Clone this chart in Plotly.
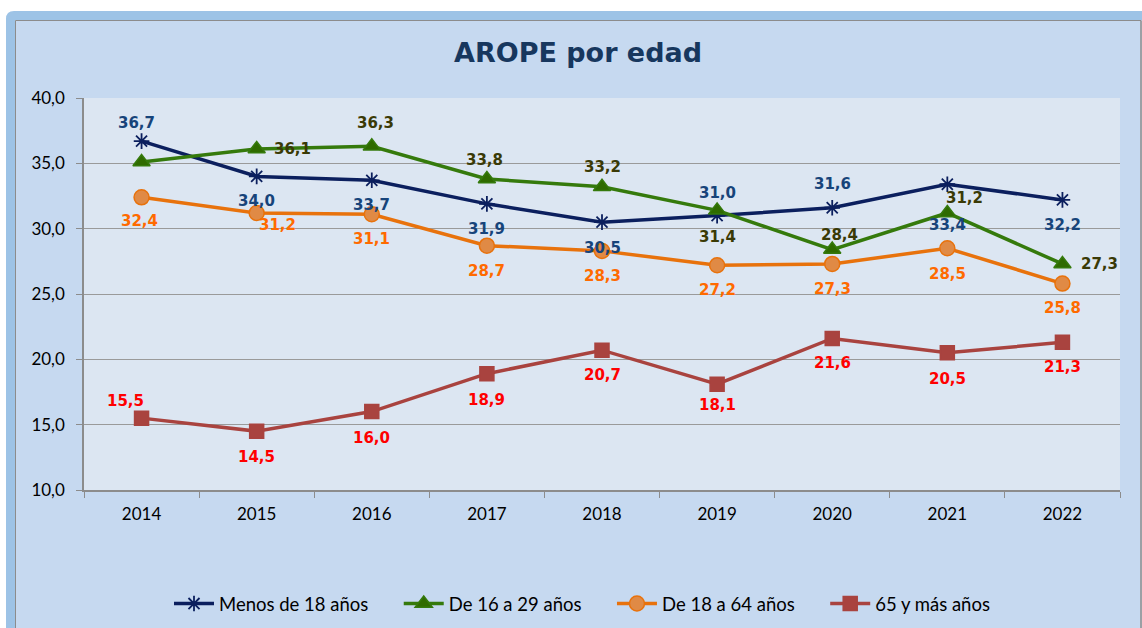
import plotly.graph_objects as go

# ---------------- data ----------------
years = ["2014", "2015", "2016", "2017", "2018", "2019", "2020", "2021", "2022"]
menos_18 = [36.7, 34.0, 33.7, 31.9, 30.5, 31.0, 31.6, 33.4, 32.2]
de_16_29 = [35.1, 36.1, 36.3, 33.8, 33.2, 31.4, 28.4, 31.2, 27.3]
de_18_64 = [32.4, 31.2, 31.1, 28.7, 28.3, 27.2, 27.3, 28.5, 25.8]
mas_65 = [15.5, 14.5, 16.0, 18.9, 20.7, 18.1, 21.6, 20.5, 21.3]
series_names = ["Menos de 18 años", "De 16 a 29 años", "De 18 a 64 años", "65 y más años"]
y_ticks = [10, 15, 20, 25, 30, 35, 40]
title_text = "AROPE por edad"

# ---------------- styles ----------------
W, H = 1142, 628
L, R, T, B = 84, 1120, 98, 490  # plot area in px

line_cols = ["#0B1F5E", "#357A0C", "#E8720C", "#A9433F"]
marker_fill = ["#0B1F5E", "#2F6B00", "#E08A45", "#A9433F"]
label_cols = ["#17447A", "#3A3A06", "#FF6A00", "#FF0000"]
symbols = ["asterisk-open", "triangle-up", "circle", "square"]
msizes = [13, 15, 15, 14]
legend_pad = "\u2003\u2002\u2009"

# label offsets in px (dx, dy with dy positive = down); None = no label
offsets = [
    [(-5, -18), (0, 25), (0, 25), (0, 25), (0, 26), (0, -23), (0, -24), (0, 41), (0, 25)],
    [None, (36, 0), (4, -23), (-2, -19), (0, -20), (0, 27), (7, -15), (17, -15), (37, 0)],
    [(-2, 24), (21, 12), (0, 25), (0, 25), (0, 25), (0, 25), (0, 25), (0, 26), (0, 24)],
    [(-16, -17), (0, 26), (0, 26), (0, 26), (0, 25), (0, 21), (0, 25), (0, 26), (0, 25)],
]

all_series = [menos_18, de_16_29, de_18_64, mas_65]

fig = go.Figure()
for i, vals in enumerate(all_series):
    nm = series_names[i] + (legend_pad if i < len(all_series) - 1 else "")
    fig.add_trace(go.Scatter(
        x=years, y=vals, name=nm, mode="lines+markers",
        line=dict(color=line_cols[i], width=3.5),
        marker=dict(symbol=symbols[i], size=msizes[i], color=marker_fill[i],
                    line=dict(color=line_cols[i], width=1.5 if i != 0 else 1.8)),
    ))

annotations = []
for i, vals in enumerate(all_series):
    for j, v in enumerate(vals):
        off = offsets[i][j]
        if off is None:
            continue
        annotations.append(dict(
            x=j, y=v, xref="x", yref="y",
            text="<b>" + f"{v:.1f}".replace(".", ",") + "</b>", showarrow=False,
            xshift=off[0], yshift=-off[1], xanchor="center", yanchor="middle",
            font=dict(family="DejaVu Sans", size=15, color=label_cols[i]),
        ))


def px_x(p):
    return (p - L) / (R - L)


def px_y(p):
    return (B - p) / (B - T)


annotations.append(dict(
    text=f"<b>{title_text}</b>", x=px_x(578), y=px_y(52),
    xref="paper", yref="paper", showarrow=False, xanchor="center", yanchor="middle",
    font=dict(family="DejaVu Sans", size=27, color="#17375E"),
))

# rounded outer frame corner
r = 8
frame_path = (f"M {px_x(6)},{px_y(H + 5)} L {px_x(6)},{px_y(11 + r)} "
              f"Q {px_x(6)},{px_y(11)} {px_x(6 + r)},{px_y(11)} "
              f"L {px_x(W + 5)},{px_y(11)} L {px_x(W + 5)},{px_y(20)} "
              f"L {px_x(15)},{px_y(20)} L {px_x(15)},{px_y(H + 5)} Z")

shapes = [
    dict(type="rect", xref="paper", yref="paper", x0=px_x(-5), x1=px_x(W + 5), y0=px_y(-5), y1=px_y(20),
         fillcolor="white", line=dict(width=0), layer="above"),
    dict(type="rect", xref="paper", yref="paper", x0=px_x(-5), x1=px_x(15), y0=px_y(-5), y1=px_y(H + 5),
         fillcolor="white", line=dict(width=0), layer="above"),
    dict(type="path", xref="paper", yref="paper", path=frame_path,
         fillcolor="#9DC3E6", line=dict(width=0), layer="above"),
    dict(type="line", xref="paper", yref="paper", x0=px_x(15.5), x1=px_x(1141), y0=px_y(20.5), y1=px_y(20.5),
         line=dict(color="#8C8C8C", width=1), layer="above"),
    dict(type="line", xref="paper", yref="paper", x0=px_x(15.5), x1=px_x(15.5), y0=px_y(20.5), y1=px_y(H + 5),
         line=dict(color="#8C8C8C", width=1), layer="above"),
    dict(type="line", xref="paper", yref="paper", x0=px_x(1141), x1=px_x(1141), y0=px_y(20.5), y1=px_y(H + 5),
         line=dict(color="#8C8C8C", width=1.5), layer="above"),
]

fig.update_layout(
    width=W, height=H,
    margin=dict(l=L, r=W - R, t=T, b=H - B, pad=0, autoexpand=False),
    paper_bgcolor="#C6D9F0", plot_bgcolor="#DCE6F2",
    separators=",.",
    showlegend=True,
    legend=dict(orientation="h", x=px_x(582), xanchor="center", y=px_y(604), yanchor="middle",
                font=dict(family="Lato", size=18.5, color="#000000"), bgcolor="rgba(0,0,0,0)",
                itemwidth=40, tracegroupgap=0),
    annotations=annotations,
    shapes=shapes,
    xaxis=dict(type="category", range=[-0.5, len(years) - 0.5], showgrid=False,
               showline=True, linecolor="#8C8C8C", linewidth=2,
               ticks="outside", tickson="boundaries", ticklen=6, tickcolor="#8C8C8C",
               ticklabelstandoff=8,
               tickfont=dict(family="Lato", size=17, color="#000000"), fixedrange=True),
    yaxis=dict(range=[10, 40], tickvals=y_ticks, tickformat=".1f", showgrid=True,
               gridcolor="#9A9A9A", gridwidth=1, showline=True, linecolor="#8C8C8C", linewidth=1.5,
               ticks="outside", ticklen=6, tickcolor="#8C8C8C", zeroline=False,
               ticklabelstandoff=8,
               tickfont=dict(family="Lato", size=17, color="#000000"), fixedrange=True),
)

fig.write_html("out.html", config={"displayModeBar": False},
               post_script="document.body.style.margin='0';document.body.style.overflow='hidden';")
